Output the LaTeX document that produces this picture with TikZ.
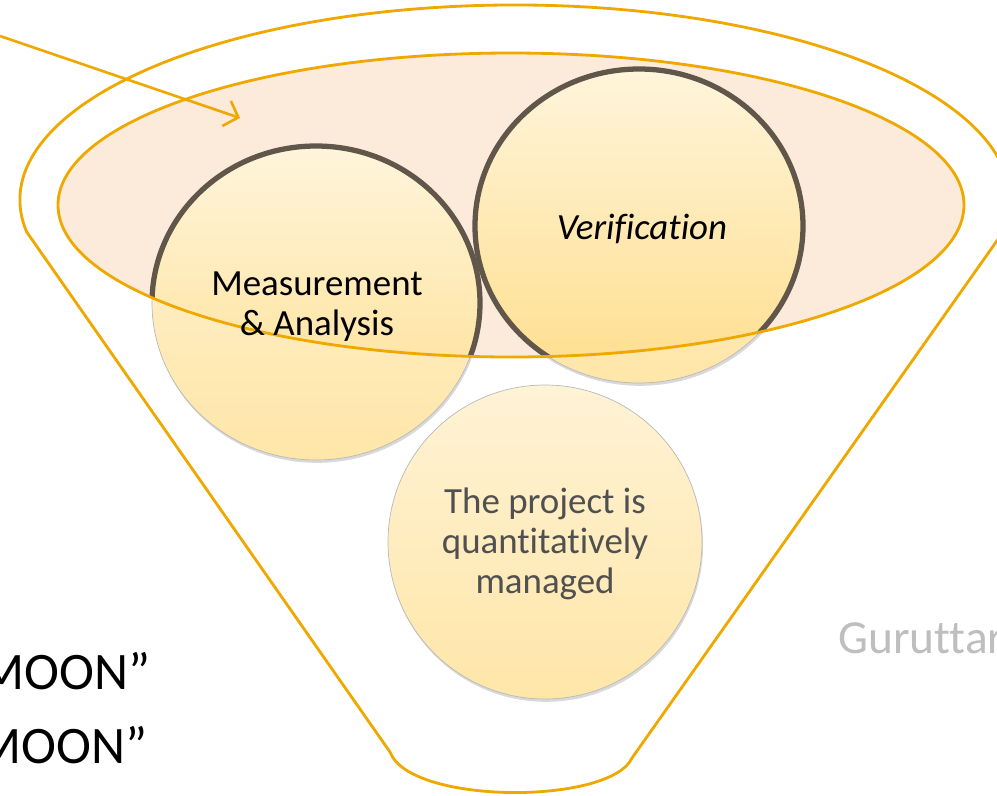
\documentclass[tikz,border=0pt]{standalone}
\usepackage{fontspec}
\setmainfont{Carlito}[Ligatures=NoCommon]
\usepackage{xcolor}
\usepackage{tikz}
\usetikzlibrary{arrows.meta}
\usetikzlibrary{positioning}
\usetikzlibrary{shadows}
\definecolor{funnelgold}{RGB}{238,168,0}
\definecolor{ringbrown}{RGB}{96,86,74}
\definecolor{panfill}{RGB}{252,235,219}
\definecolor{balltop}{RGB}{255,245,220}
\definecolor{ballbottom}{RGB}{255,222,140}
\definecolor{paletop}{RGB}{255,243,214}
\definecolor{palebottom}{RGB}{255,230,168}
\definecolor{quanttext}{RGB}{80,80,80}
\definecolor{captiongray}{RGB}{190,190,190}

\begin{document}
\begin{tikzpicture}[x=0.02cm, y=-0.02cm,
    funnel/.style={draw=funnelgold, line width=1.6pt},
    paleball/.style={top color=paletop, bottom color=palebottom,
      draw=gray!55, line width=0.4pt,
      drop shadow={opacity=0.3, shadow xshift=0.6pt, shadow yshift=-1.6pt}},
    fullball/.style={top color=balltop, bottom color=ballbottom,
      draw=ringbrown, line width=3pt},
    balltext/.style={font=\fontsize{21}{22.8}\selectfont, align=center},
    pointer/.style={draw=funnelgold, line width=1.5pt,
      -{Straight Barb[length=7pt, width=15pt, line width=1.5pt]}}]

    \useasboundingbox (0,0) rectangle (997,795);
    \clip (0,0) rectangle (997,795);

    \coordinate (maC) at (316,303);
    \coordinate (verC) at (639,226);
    \coordinate (quantC) at (545,542);
    \coordinate (panC) at (511,205);

    \draw [funnel] (26.6,231.8)
    arc [start angle=170.6, end angle=369.4, x radius=495, y radius=195]
    -- (632,758) .. controls (610,805) and (410,805) .. (390,752) -- cycle;

    \fill [panfill] (panC) ellipse [x radius=453, y radius=152];

    \path [paleball] (quantC) circle [radius=157];
    \path [paleball] (maC) ellipse [x radius=164, y radius=157];
    \path [paleball] (verC) ellipse [x radius=164, y radius=157];

    \begin{scope}
      \clip (panC) ellipse [x radius=453, y radius=152];
      \path [fullball] (maC) ellipse [x radius=164, y radius=157];
      \path [fullball] (verC) ellipse [x radius=164, y radius=157];
    \end{scope}

    \draw [funnel] (panC) ellipse [x radius=453, y radius=152];

    \node [balltext] (ma) at (317,307) {Measurement\\\&~Analysis};
    \node [balltext, anchor=base] (ver) at (642,239) {\itshape Verification};
    \node [balltext, text=quanttext] (quant) at (545,544)
    {The project is\\quantitatively\\managed};

    \node [anchor=base east, font=\fontsize{30}{36}\selectfont] (moonA)
    at (157,689) {MOON”};
    \node [anchor=base east, font=\fontsize{30}{36}\selectfont] (moonB)
    at (154,763) {MOON”};
    \node [anchor=base west, text=captiongray, font=\fontsize{27}{32}\selectfont]
    (guru) at (832,653) {Guruttar};

    \coordinate (arrowTail) at (0,36);
    \coordinate (arrowHead) at (240,118);
    \draw [pointer] (arrowTail) -- (arrowHead);

  \end{tikzpicture}
\end{document}
